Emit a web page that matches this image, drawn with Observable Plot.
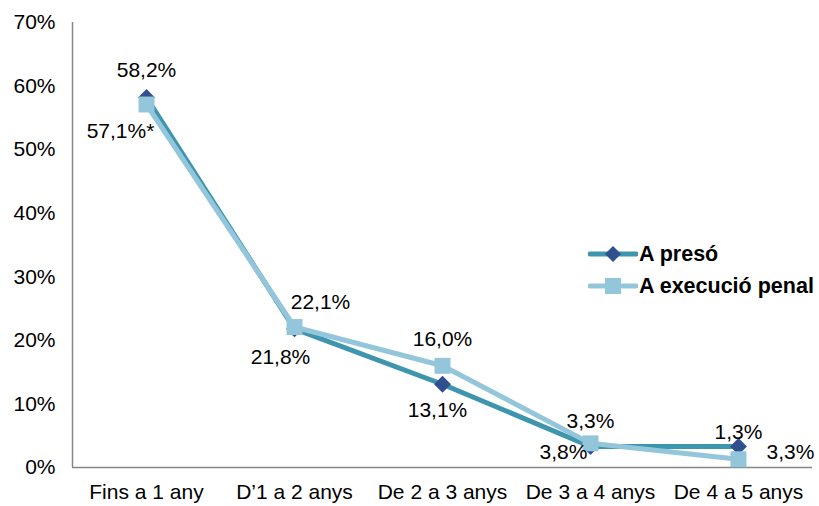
<!DOCTYPE html>
<html>
<head>
<meta charset="utf-8">
<script src="https://cdn.jsdelivr.net/npm/d3@7"></script>
<script src="https://cdn.jsdelivr.net/npm/@observablehq/plot@0.6"></script>
<style>
  html, body { margin: 0; padding: 0; background: #fff; }
  #wrap { position: relative; width: 819px; height: 506px; font-family: "Liberation Sans", Arial, sans-serif; }
  #legend { position: absolute; left: 588px; top: 238px; font-weight: bold; font-size: 21.5px; color: #000; }
  #legend .row { display: flex; align-items: center; height: 32px; }
  #legend svg { margin-right: 1px; }
</style>
</head>
<body>
<div id="wrap">
  <div id="chart"></div>
  <div id="legend"></div>
</div>
<script>
const categories = ["Fins a 1 any", "D\u20191 a 2 anys", "De 2 a 3 anys", "De 3 a 4 anys", "De 4 a 5 anys"];
const seriesNames = ["A presó", "A execució penal"];
const presoValues = [58.2, 21.8, 13.1, 3.3, 3.3];
const execucioValues = [57.1, 22.1, 16.0, 3.8, 1.3];
const labelNotes = [["", "", "", "", ""], ["*", "", "", "", ""]];
const yTicks = [0, 10, 20, 30, 40, 50, 60, 70];

// label offsets (styling), per series per point [dx, dy]
const labelOffsets = [
  [[0, -27], [-14, 28], [-5, 26], [0, -25], [52, 6]],
  [[-26, 27], [26, -25], [0, -27], [-27, 9], [0, -27]]
];

const colors = {
  presoLine: "#3E95AE",
  presoMark: "#2F4F8F",
  execLine: "#93C6DA",
  execMark: "#93C6DA"
};

const FS = 21;

const rows = [];
[presoValues, execucioValues].forEach((vals, s) => {
  vals.forEach((v, i) => rows.push({
    series: seriesNames[s], s, i, v,
    label: v.toFixed(1).replace(".", ",") + "%" + labelNotes[s][i],
    dx: labelOffsets[s][i][0], dy: labelOffsets[s][i][1]
  }));
});
const preso = rows.filter(d => d.s === 0);
const exec = rows.filter(d => d.s === 1);

const textMarks = rows.map(d => Plot.text([d], {
  x: "i", y: "v", text: "label", dx: d.dx, dy: d.dy,
  fontSize: FS, fill: "#000"
}));

const chart = Plot.plot({
  width: 819,
  height: 506,
  marginLeft: 72,
  marginRight: 7,
  marginTop: 22,
  marginBottom: 39,
  style: { fontFamily: "'Liberation Sans', Arial, sans-serif", fontSize: FS + "px", background: "#fff", color: "#000" },
  x: { domain: [-0.5, 4.5], axis: null },
  y: { domain: [0, 70], axis: null },
  marks: [
    Plot.axisY(yTicks, { tickSize: 0, tickPadding: 17, tickFormat: d => d + "%", fontSize: FS, label: null }),
    Plot.axisX([0, 1, 2, 3, 4], { tickSize: 0, tickPadding: 17, tickFormat: i => categories[i], fontSize: FS, label: null }),
    Plot.ruleY([0], { stroke: "#868686", strokeWidth: 1.5 }),
    Plot.ruleX([-0.5], { y1: 0, y2: 70, stroke: "#868686", strokeWidth: 1.5 }),
    Plot.line(preso, { x: "i", y: "v", stroke: colors.presoLine, strokeWidth: 5 }),
    Plot.dot(preso, { x: "i", y: "v", symbol: "diamond2", r: 7.6, fill: colors.presoMark, stroke: "none" }),
    Plot.line(exec, { x: "i", y: "v", stroke: colors.execLine, strokeWidth: 5 }),
    Plot.dot(exec, { x: "i", y: "v", symbol: "square", r: 9, fill: colors.execMark, stroke: "none" }),
    ...textMarks
  ]
});
document.getElementById("chart").appendChild(chart);

// legend
const legend = document.getElementById("legend");
const legendItems = [
  { name: seriesNames[0], line: colors.presoLine, mark: colors.presoMark, shape: "diamond" },
  { name: seriesNames[1], line: colors.execLine, mark: colors.execMark, shape: "square" }
];
legendItems.forEach(it => {
  const row = document.createElement("div");
  row.className = "row";
  const shape = it.shape === "diamond"
    ? `<path d="M25,7 L33,15 L25,23 L17,15 Z" fill="${it.mark}"/>`
    : `<rect x="17" y="7" width="16" height="16" fill="${it.mark}"/>`;
  row.innerHTML = `<svg width="50" height="30"><line x1="2" x2="48" y1="15" y2="15" stroke="${it.line}" stroke-width="5" stroke-linecap="round"/>${shape}</svg><span>${it.name}</span>`;
  legend.appendChild(row);
});
</script>
</body>
</html>
